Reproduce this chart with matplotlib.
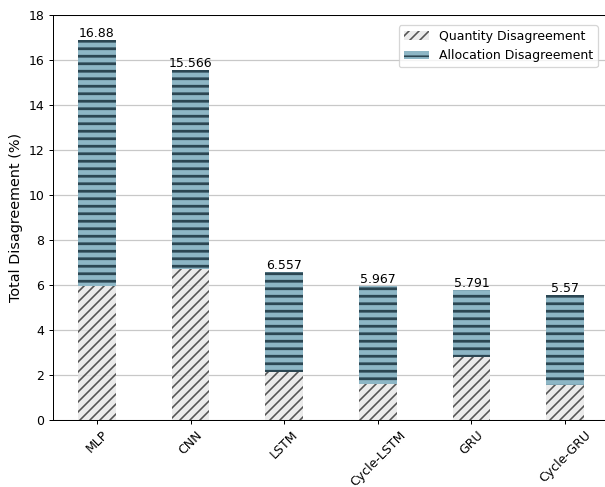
import numpy as np
import matplotlib
matplotlib.use("Agg")
import matplotlib.pyplot as plt

# Modeller ve uyumsuzluk bileşenleri (%)
models = ["MLP", "CNN", "LSTM", "Cycle-LSTM", "GRU", "Cycle-GRU"]
totals = [16.88, 15.566, 6.557, 5.967, 5.791, 5.57]
quantity = [5.97, 6.72, 2.14, 1.60, 2.81, 1.56]
allocation = [t - q for t, q in zip(totals, quantity)]

plt.rcParams["font.size"] = 10

fig = plt.figure(figsize=(605 / 90, 487 / 90), dpi=90)
ax = fig.add_axes([0.0876, 0.138, 0.919, 0.831])

x = np.arange(len(models))
width = 0.4

ax.grid(axis="y", color="#c8c8c8", linewidth=1.0)
ax.set_axisbelow(True)

q_bars = ax.bar(x, quantity, width, color="#e6e6e6", alpha=0.8,
                edgecolor="#2e2e2e", linewidth=0, hatch="///",
                label="Quantity Disagreement")
a_bars = ax.bar(x, allocation, width, bottom=quantity, color="#8db6c5",
                edgecolor="#2b4652", linewidth=0, hatch="--",
                label="Allocation Disagreement")

# Tarama çizgisi kalınlıkları
for p in q_bars:
    p.set_hatch_linewidth(1.3)
for p in a_bars:
    p.set_hatch_linewidth(2.2)

# Toplam değerleri çubukların üstüne yaz
for xi, t in zip(x, totals):
    ax.text(xi, t, f"{t:g}", ha="center", va="bottom", fontsize=10)

ax.set_ylim(0, 18)
ax.set_yticks(range(0, 19, 2))
ax.set_xticks(x)
ax.set_xticklabels(models, rotation=45)
ax.set_ylabel("Total Disagreement (%)", fontsize=11.5)
ax.spines["right"].set_visible(False)

leg = ax.legend(loc="upper right", bbox_to_anchor=(0.98, 0.975),
                borderaxespad=0, fontsize=10)
for h in leg.legend_handles:
    h.set_hatch_linewidth(1.3)

fig.savefig("out.png", dpi=90)
